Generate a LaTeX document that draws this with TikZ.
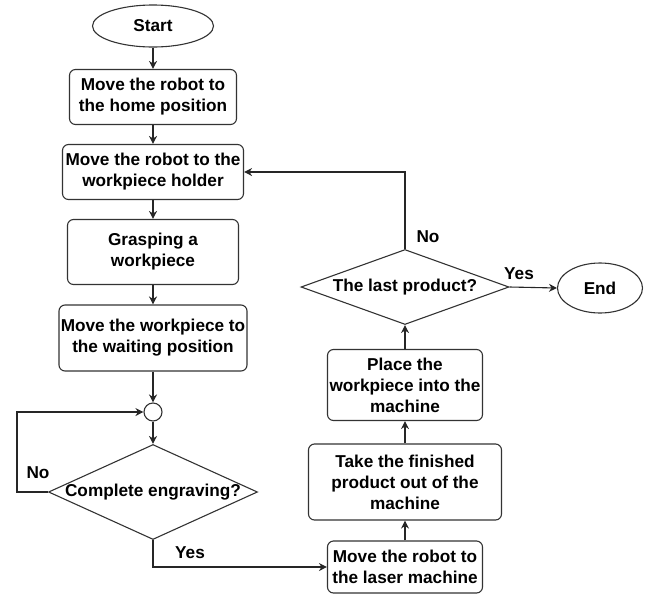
\documentclass[tikz,border=0pt]{standalone}
\usepackage{fontspec}
\setmainfont{Liberation Sans}
\usepackage{tikz}
\usetikzlibrary{arrows.meta,calc,shapes.geometric}

\tikzset{
    procbox/.style={draw=black!80, line width=1.1pt, rounded corners=6pt, align=center, inner sep=0pt, font=\bfseries\fontsize{17.2}{21}\selectfont},
    termbox/.style={draw=black!80, line width=1.1pt, ellipse, inner sep=0pt, font=\bfseries\fontsize{17.2}{21}\selectfont},
    askbox/.style={draw=black!80, line width=1.1pt, diamond, inner sep=0pt},
    asktext/.style={font=\bfseries\fontsize{17.2}{21}\selectfont},
    flow/.style={draw=black!85, line width=1.1pt, -{Stealth[length=8pt,width=8pt]}},
    tag/.style={font=\bfseries\fontsize{17.2}{21}\selectfont}
}

\begin{document}
\begin{tikzpicture}[x=1pt,y=-1pt]
    \useasboundingbox (0,0) rectangle (651,595);
    %%left_column
    \node[termbox, minimum width=121, minimum height=42] (start) at (153,26) {Start};
    \node[procbox, minimum width=167, minimum height=55] (home) at (153,97) {Move the robot to\\the home position};
    \node[procbox, minimum width=181, minimum height=55] (holder) at (153,172) {Move the robot to the\\workpiece holder};
    \node[procbox, minimum width=171, minimum height=65] (grasp) at (153,252) {Grasping a\\workpiece};
    \node[procbox, minimum width=188, minimum height=66] (wait) at (153,338) {Move the workpiece to\\the waiting position};
    \node[draw=black!80, line width=1.1pt, circle, minimum size=18, inner sep=0pt] (junc) at (153,412) {};
    \node[askbox, minimum width=209, minimum height=95,
        label={[asktext]center:Complete engraving?}] (engrave) at (153,492) {};
    %%right_column
    \node[procbox, minimum width=155, minimum height=52] (laser) at (405,567) {Move the robot to\\the laser machine};
    \node[procbox, minimum width=193, minimum height=76] (take) at (405,482) {Take the finished\\product out of the\\machine};
    \node[procbox, minimum width=155, minimum height=71] (place) at (405,385) {Place the\\workpiece into the\\machine};
    \node[askbox, minimum width=208, minimum height=75,
        label={[asktext]center:The last product?}] (last) at (405,287) {};
    \node[termbox, minimum width=85, minimum height=50] (end) at (600,288) {End};
    %%arrows
    \draw[flow] (start) -- (home);
    \draw[flow] (home) -- (holder);
    \draw[flow] (holder) -- (grasp);
    \draw[flow] (grasp) -- (wait);
    \draw[flow] (wait) -- (junc);
    \draw[flow] (junc) -- (engrave);
    \coordinate (noturn) at (17,492);
    \draw[flow] (engrave.west) -- (noturn) |- (junc.west);
    \draw[flow] (engrave.south) |- (laser.west);
    \draw[flow] (laser) -- (take);
    \draw[flow] (take) -- (place);
    \draw[flow] (place) -- (last);
    \draw[flow] (last.east) -- (end.west);
    \draw[flow] (last.north) |- (holder.east);
    %%labels
    \node[tag] (noleft) at (38,473) {No};
    \node[tag] (yesleft) at (190,553) {Yes};
    \node[tag] (noright) at (428,237) {No};
    \node[tag] (yesright) at (519,274) {Yes};
\end{tikzpicture}
\end{document}
